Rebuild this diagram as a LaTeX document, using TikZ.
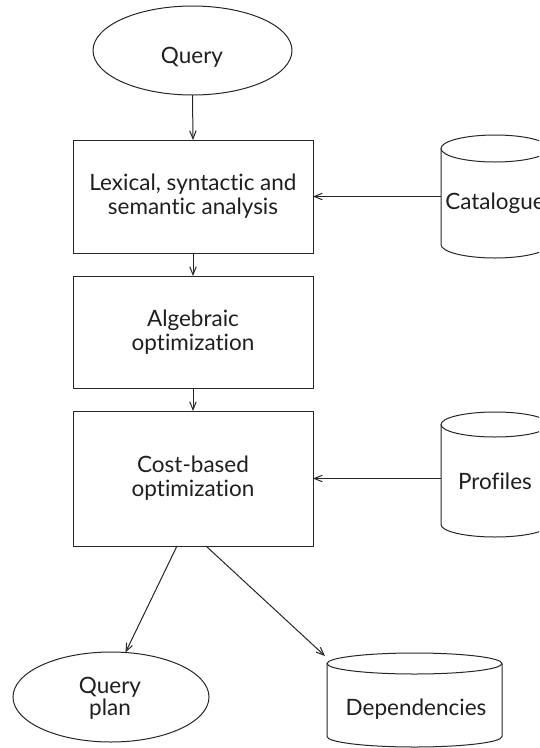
\documentclass[tikz,border=0pt]{standalone}
\usepackage{fontspec}
\setmainfont{Lato}[Ligatures={NoCommon}]
\usetikzlibrary{shapes.geometric,arrows.meta}
\begin{document}
\begin{tikzpicture}[x=1pt,y=1pt,
  every node/.style={font=\fontsize{22.5}{24}\selectfont, text=black!88},
  ln/.style={line width=1pt, draw=black!85},
  arr/.style={ln, -{Straight Barb[length=8pt,width=6.5pt]}},
  procbox/.style={ln, rectangle, minimum width=240pt, inner sep=0pt, outer sep=0pt, align=center},
  term/.style={ln, ellipse, inner sep=0pt, outer sep=0pt},
  store/.style={rectangle, inner sep=0pt, outer sep=0pt},
  lbl/.style={anchor=base, inner sep=0pt, outer sep=0pt}]
\clip (0,0) rectangle (539,-748);
\useasboundingbox (0,0) rectangle (539,-748);

% terminals
\node[term, minimum width=199pt, minimum height=89pt] (query) at (192.5,-50.5) {};
\node[lbl] (queryT) at (192,-63) {Query};
\node[term, minimum width=196pt, minimum height=90pt] (plan) at (111,-697) {};
\node[lbl] (planT1) at (110,-693) {Query};
\node[lbl] (planT2) at (110,-715) {plan};

% process boxes
\node[procbox, minimum height=113pt] (lex) at (193,-196.5) {Lexical, syntactic and\\semantic analysis};
\node[procbox, minimum height=112pt] (alg) at (193,-332) {Algebraic\\optimization};
\node[procbox, minimum height=135pt] (cost) at (193,-478.5) {Cost-based\\optimization};

% stores (cylinders)
\node[store, minimum width=108pt, minimum height=123pt] (cat) at (495,-196.5) {};
\draw[ln] ([yshift=-13.5pt]cat.north west) -- ([yshift=13.5pt]cat.south west)
  arc[start angle=180, end angle=360, x radius=54pt, y radius=13.5pt]
  -- ([yshift=-13.5pt]cat.north east);
\draw[ln] ([yshift=-13.5pt]cat.north) ellipse [x radius=54pt, y radius=13.5pt];
\node[lbl] (catT) at (495,-209) {Catalogue};

\node[store, minimum width=108pt, minimum height=125pt] (prof) at (495,-474.5) {};
\draw[ln] ([yshift=-12.5pt]prof.north west) -- ([yshift=12.5pt]prof.south west)
  arc[start angle=180, end angle=360, x radius=54pt, y radius=12.5pt]
  -- ([yshift=-12.5pt]prof.north east);
\draw[ln] ([yshift=-12.5pt]prof.north) ellipse [x radius=54pt, y radius=12.5pt];
\node[lbl] (profT) at (495,-489) {Profiles};

\node[store, minimum width=175pt, minimum height=94pt] (dep) at (414.5,-700) {};
\draw[ln] ([yshift=-10.5pt]dep.north west) -- ([yshift=10.5pt]dep.south west)
  arc[start angle=180, end angle=360, x radius=87.5pt, y radius=10.5pt]
  -- ([yshift=-10.5pt]dep.north east);
\draw[ln] ([yshift=-10.5pt]dep.north) ellipse [x radius=87.5pt, y radius=10.5pt];
\node[lbl] (depT) at (416,-715) {Dependencies};

% connectors
\draw[arr] (query.south) -- (lex.north);
\draw[arr] (lex.south) -- (alg.north);
\draw[arr] (alg.south) -- (cost.north);
\draw[arr] (cat.west) -- (lex.east);
\draw[arr] (prof.west |- cost.east) -- (cost.east);
\draw[arr] ([xshift=-16pt]cost.south) -- (plan.72);
\draw[arr] ([xshift=13pt]cost.south) -- ([shift={(-2pt,-3pt)}]dep.north west);
\end{tikzpicture}
\end{document}
